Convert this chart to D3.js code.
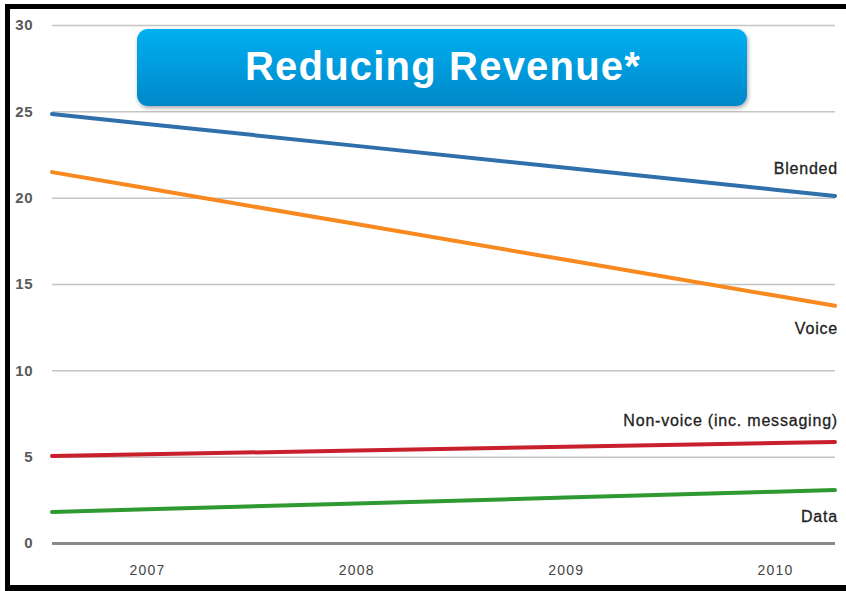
<!DOCTYPE html>
<html>
<head>
<meta charset="utf-8">
<script src="https://cdn.jsdelivr.net/npm/d3@7"></script>
<style>
  body { margin: 0; background: #fff; }
  svg { display: block; font-family: "Liberation Sans", Arial, Helvetica, sans-serif; }
</style>
</head>
<body>
<div id="chart"></div>
<script>
// Reducing Revenue chart

var years = [2007, 2008, 2009, 2010];
var yTicks = [0, 5, 10, 15, 20, 25, 30];

var blended = [24.27, 23.0, 21.73, 20.46];
var voice = [20.54, 18.47, 16.40, 14.33];
var nonVoice = [5.14, 5.35, 5.57, 5.79];
var dataRev = [1.95, 2.29, 2.63, 2.97];

var seriesNames = ["Blended", "Voice", "Non-voice (inc. messaging)", "Data"];
var seriesColors = ["#2f6fab", "#f7891f", "#c9202e", "#2f9a32"];
var seriesValues = [blended, voice, nonVoice, dataRev];

var svgWidth = 846;
var svgHeight = 591;

var plotLeft = 52;
var plotRight = 835;

var svg = d3.select("#chart")
    .append("svg")
    .attr("width", svgWidth)
    .attr("height", svgHeight);

svg.append("rect")
    .attr("width", svgWidth)
    .attr("height", svgHeight)
    .attr("fill", "#fff");

var defs = svg.append("defs");
var grad = defs.append("linearGradient")
    .attr("id", "boxGrad")
    .attr("x1", 0).attr("y1", 0).attr("x2", 0).attr("y2", 1);
grad.append("stop").attr("offset", "0%").attr("stop-color", "#00b0f0");
grad.append("stop").attr("offset", "100%").attr("stop-color", "#0087c9");

var shadow = defs.append("filter")
    .attr("id", "shadow")
    .attr("x", "-5%").attr("y", "-10%")
    .attr("width", "110%").attr("height", "130%");
shadow.append("feDropShadow")
    .attr("dx", 1).attr("dy", 2)
    .attr("stdDeviation", 2)
    .attr("flood-color", "#000")
    .attr("flood-opacity", 0.35);

// scales
var xScale = d3.scaleLinear()
    .domain([2007, 2010])
    .range([147, 775]);

var yScale = d3.scaleLinear()
    .domain([0, 30])
    .range([543, 25]);

// grid + y labels
var yAxis = svg.append("g")
    .attr("transform", `translate(${plotLeft}, 0)`)
    .call(d3.axisLeft(yScale)
        .tickValues(yTicks)
        .tickSize(-(plotRight - plotLeft))
        .tickPadding(19)
        .tickFormat(d3.format("d")));

yAxis.select(".domain").remove();
yAxis.selectAll(".tick line")
    .attr("stroke", d => d === 0 ? "#8a8a8a" : "#c4c4c4")
    .attr("stroke-width", d => d === 0 ? 3 : 1.5);
yAxis.selectAll(".tick text")
    .attr("fill", "#5a5a5a")
    .attr("font-size", 15)
    .attr("font-weight", "bold")
    .attr("letter-spacing", 0.5);

// x labels
var xAxis = svg.append("g")
    .attr("transform", "translate(0, 543)")
    .call(d3.axisBottom(xScale)
        .tickValues(years)
        .tickSize(0)
        .tickPadding(22)
        .tickFormat(d3.format("d")));

xAxis.select(".domain").remove();
xAxis.selectAll(".tick text")
    .attr("fill", "#444")
    .attr("font-size", 14)
    .attr("letter-spacing", 1.2);

// lines, extended from the outer years to the plot edges
var xStart = xScale.invert(plotLeft);
var xEnd = xScale.invert(plotRight);

function extendSeries(vals) {
    var n = vals.length;
    var pts = years.map((y, i) => [y, vals[i]]);
    var s0 = (vals[1] - vals[0]) / (years[1] - years[0]);
    var s1 = (vals[n - 1] - vals[n - 2]) / (years[n - 1] - years[n - 2]);
    pts.unshift([xStart, vals[0] + s0 * (xStart - years[0])]);
    pts.push([xEnd, vals[n - 1] + s1 * (xEnd - years[n - 1])]);
    return pts;
}

var line = d3.line()
    .x(d => xScale(d[0]))
    .y(d => yScale(d[1]));

svg.append("g")
    .selectAll("path")
    .data(seriesValues)
    .enter()
    .append("path")
    .attr("d", d => line(extendSeries(d)))
    .attr("fill", "none")
    .attr("stroke", (d, i) => seriesColors[i])
    .attr("stroke-width", 4)
    .attr("stroke-linecap", "round");

// series labels on the right
var labelY = [174, 334, 426, 522];
svg.append("g")
    .selectAll("text")
    .data(seriesNames)
    .enter()
    .append("text")
    .attr("x", 838)
    .attr("y", (d, i) => labelY[i])
    .attr("text-anchor", "end")
    .attr("font-size", 16)
    .attr("letter-spacing", 0.8)
    .attr("fill", "#222")
    .attr("stroke", "#222")
    .attr("stroke-width", 0.3)
    .text(d => d);

// title box
svg.append("rect")
    .attr("x", 137)
    .attr("y", 29)
    .attr("width", 610)
    .attr("height", 77)
    .attr("rx", 11)
    .attr("fill", "url(#boxGrad)")
    .attr("filter", "url(#shadow)");

svg.append("text")
    .attr("x", 443)
    .attr("y", 80)
    .attr("text-anchor", "middle")
    .attr("font-size", 40)
    .attr("font-weight", "bold")
    .attr("letter-spacing", 1.2)
    .attr("fill", "#fff")
    .text("Reducing Revenue*");

// black frame (top, left, bottom)
svg.append("rect").attr("x", 5).attr("y", 4).attr("width", 841).attr("height", 5).attr("fill", "#000");
svg.append("rect").attr("x", 5).attr("y", 4).attr("width", 5).attr("height", 587).attr("fill", "#000");
svg.append("rect").attr("x", 5).attr("y", 585).attr("width", 841).attr("height", 6).attr("fill", "#000");
</script>
</body>
</html>
